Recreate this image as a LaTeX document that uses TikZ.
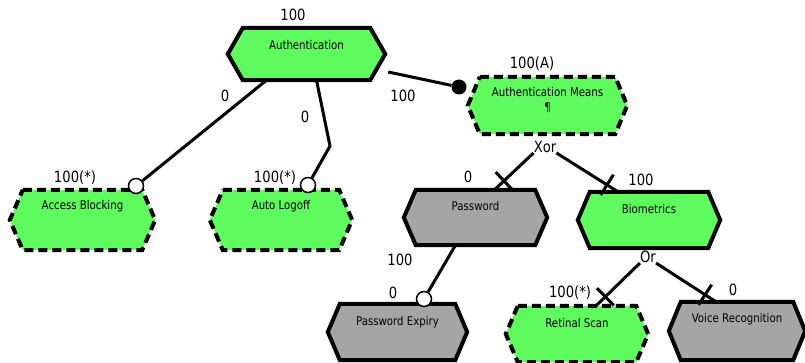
\documentclass[tikz,border=0pt]{standalone}
\usepackage{fontspec}
\setmainfont{DejaVu Sans}[FakeStretch=0.85]
\usetikzlibrary{calc}
\definecolor{featgreen}{RGB}{94,250,94}
\definecolor{featgray}{RGB}{165,165,165}
\tikzset{
  x=1pt, y=-1pt,
  hexbody/.style={rectangle, draw=none, inner sep=0pt},
  hexline/.style={line width=4pt, line join=miter},
  greenbox/.style={hexline, fill=featgreen},
  optbox/.style={hexline, fill=featgreen, dash pattern=on 9pt off 5pt},
  graybox/.style={hexline, fill=featgray},
  boxtext/.style={font=\fontsize{12}{15}\selectfont, inner sep=0pt, align=center},
  num/.style={font=\fontsize{15.5}{17}\selectfont, inner sep=0pt},
  conn/.style={line width=3pt},
  opencirc/.style={circle, draw, line width=1.5pt, fill=white, minimum size=15pt, inner sep=0pt},
  ball/.style={circle, fill=black, minimum size=15pt, inner sep=0pt},
}
\newcommand\hexoutline[3]{% node name, style, slant
  \draw[#2] ([xshift=#3]#1.north west) -- ([xshift=-#3]#1.north east) -- (#1.east)
    -- ([xshift=-#3]#1.south east) -- ([xshift=#3]#1.south west) -- (#1.west) -- cycle;}
% connector with a crossing bar just before its end (mutual exclusion mark)
\newcommand\crossconn[2]{% start, end (named points)
  \draw[conn] (#1) -- (#2);
  \coordinate (cm-#2) at ($(#2)!13pt!(#1)$);
  \draw[conn] ($(cm-#2)!12pt!90:(#2)$) -- ($(cm-#2)!12pt!-90:(#2)$);}
\begin{document}
\begin{tikzpicture}
\useasboundingbox (0,0) rectangle (805,363);

% feature bodies
\node[hexbody, minimum width=157pt, minimum height=52pt] (auth) at (306.5,54) {};
\node[hexbody, minimum width=159pt, minimum height=57pt] (means) at (547.5,105.5) {};
\node[hexbody, minimum width=145pt, minimum height=60pt] (access) at (82.5,220) {};
\node[hexbody, minimum width=142pt, minimum height=60pt] (logoff) at (281,220) {};
\node[hexbody, minimum width=143pt, minimum height=55pt] (password) at (475.5,217.5) {};
\node[hexbody, minimum width=142pt, minimum height=56pt] (biom) at (649,220) {};
\node[hexbody, minimum width=139pt, minimum height=56pt] (expiry) at (397.5,332) {};
\node[hexbody, minimum width=142pt, minimum height=56pt] (retinal) at (577,334) {};
\node[hexbody, minimum width=136pt, minimum height=58pt] (voice) at (737,331) {};

\hexoutline{auth}{greenbox}{15pt}
\hexoutline{means}{optbox}{12pt}
\hexoutline{access}{optbox}{13pt}
\hexoutline{logoff}{optbox}{13pt}
\hexoutline{password}{graybox}{12pt}
\hexoutline{biom}{greenbox}{12pt}
\hexoutline{expiry}{graybox}{12pt}
\hexoutline{retinal}{optbox}{12pt}
\hexoutline{voice}{graybox}{12pt}

% feature names
\node[boxtext] (auth-t) at ([yshift=-17pt]auth.north) {Authentication};
\node[boxtext] (means-t) at ([yshift=-23.5pt]means.north) {Authentication Means\\¶};
\node[boxtext] (access-t) at ([yshift=-16pt]access.north) {Access Blocking};
\node[boxtext] (logoff-t) at ([yshift=-16pt]logoff.north) {Auto Logoff};
\node[boxtext] (password-t) at ([yshift=-16pt]password.north) {Password};
\node[boxtext] (biom-t) at ([yshift=-17pt]biom.north) {Biometrics};
\node[boxtext] (expiry-t) at ([yshift=-18pt]expiry.north) {Password Expiry};
\node[boxtext] (retinal-t) at ([yshift=-17pt]retinal.north) {Retinal Scan};
\node[boxtext] (voice-t) at ([yshift=-17pt]voice.north) {Voice Recognition};

% end markers
\node[ball] (b1) at (459,87) {};
\node[opencirc] (c1) at (136,186) {};
\node[opencirc] (c2) at (308,185) {};
\node[opencirc] (c3) at (424,299) {};
\coordinate (logoffbend) at (330,146);

% group labels
\node[num] (xor) at (545,147) {Xor};
\node[num] (or) at (648,257) {Or};

% connector end points on the child features
\coordinate (pw-in) at ([xshift=19pt]password.north);
\coordinate (bio-in) at ([xshift=-31pt]biom.north);
\coordinate (ret-in) at ([xshift=19pt]retinal.north);
\coordinate (voi-in) at ([xshift=-21pt]voice.north);
\coordinate (xor-l) at (xor.south west);
\coordinate (xor-r) at (xor.south east);
\coordinate (or-l) at (or.south west);
\coordinate (or-r) at (or.south east);

% connectors
\draw[conn] ([shift={(3pt,-18pt)}]auth.east) -- (b1);
\draw[conn] ([xshift=-40pt]auth.south) -- (c1);
\draw[conn] ([xshift=10pt]auth.south) -- (logoffbend) -- (c2);
\draw[conn] ([xshift=-20pt]password.south) -- (c3);
\crossconn{xor-l}{pw-in}
\crossconn{xor-r}{bio-in}
\crossconn{or-l}{ret-in}
\crossconn{or-r}{voi-in}

% cardinalities
\node[num] (n1) at (293,15) {100};
\node[num] (n2) at (225,96) {0};
\node[num] (n3) at (305,117) {0};
\node[num] (n4) at (403,96) {100};
\node[num] (n5) at (532,64) {100(A)};
\node[num] (n6) at (75,178) {100(*)};
\node[num] (n7) at (275,178) {100(*)};
\node[num] (n8) at (468,177) {0};
\node[num] (n9) at (641,180) {100};
\node[num] (n10) at (400,260) {100};
\node[num] (n11) at (393,293) {0};
\node[num] (n12) at (570,293) {100(*)};
\node[num] (n13) at (733,290) {0};
\end{tikzpicture}
\end{document}
